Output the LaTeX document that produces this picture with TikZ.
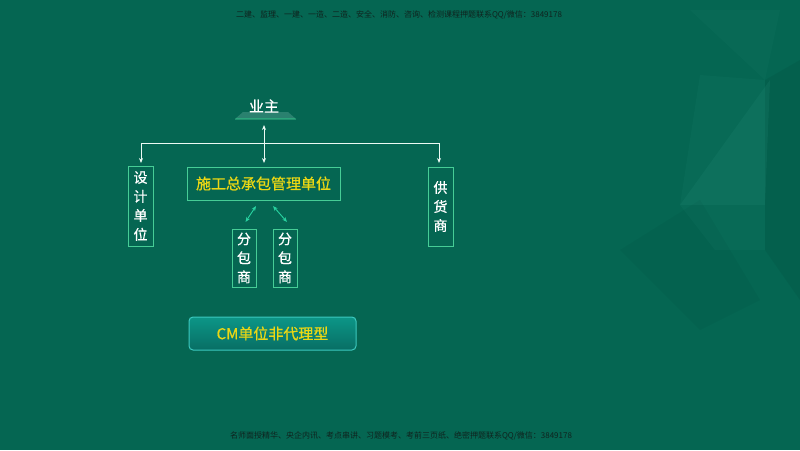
\documentclass[tikz,border=0pt]{standalone}
\usepackage{fontspec}
\setmainfont{Noto Sans CJK SC}
\newfontfamily\cjk{Noto Sans CJK SC}
\newfontfamily\cjkm[BoldFont={Noto Sans CJK SC},BoldFeatures={FakeBold=0.7}]{Noto Sans CJK SC}
\usetikzlibrary{arrows.meta,shapes.geometric}
\definecolor{bg}{RGB}{5,102,82}
\definecolor{bgl}{RGB}{20,120,100}
\definecolor{boxc}{RGB}{70,205,150}
\definecolor{ylw}{RGB}{235,215,20}
\definecolor{arr}{RGB}{40,210,160}
\definecolor{wm}{RGB}{15,35,30}
\definecolor{btnb}{RGB}{60,200,190}
\definecolor{btnt}{RGB}{12,150,135}
\definecolor{btnd}{RGB}{8,110,100}
\tikzset{
  vbox/.style={draw=boxc,line width=0.9pt,minimum width=25pt,align=center,font=\cjkm\bfseries\fontsize{14}{19}\selectfont,text=white,inner sep=2pt},
  hbox/.style={draw=boxc,line width=0.9pt,minimum width=153pt,minimum height=33pt,font=\cjkm\bfseries\fontsize{15}{18}\selectfont,text=ylw},
  link/.style={draw=white!90!boxc,line width=0.9pt},
  tip/.style={-{Stealth[length=5pt,width=4pt]}},
  dtip/.style={{Stealth[length=5pt,width=4pt]}-{Stealth[length=5pt,width=4pt]}},
  wmark/.style={font=\cjk\fontsize{8}{9}\selectfont,text=wm}
}
\begin{document}
\begin{tikzpicture}[x=1pt,y=-1pt]
\useasboundingbox (0,0) rectangle (800,450);
\fill[bg] (0,0) rectangle (800,450);
% background facets on the right
\fill[bgl,opacity=0.25] (700,75) -- (765,80) -- (765,205) -- (680,205) -- cycle;
\fill[bgl,opacity=0.45] (770,80) -- (765,205) -- (680,205) -- cycle;
\fill[bgl,opacity=0.25] (680,205) -- (765,205) -- (765,250) -- (715,250) -- cycle;
\fill[bgl,opacity=0.2] (690,10) -- (780,10) -- (765,80) -- cycle;
\fill[black,opacity=0.05] (765,80) -- (800,60) -- (800,300) -- (765,250) -- cycle;
\fill[black,opacity=0.03] (620,250) -- (700,200) -- (760,300) -- (700,330) -- cycle;
% watermarks
\node[wmark] (top) at (399,15) {二建、监理、一建、一造、二造、安全、消防、咨询、检测课程押题联系QQ/微信：3849178};
\node[wmark] (bot) at (401,436) {名师面授精华、央企内讯、考点串讲、习题模考、考前三页纸、绝密押题联系QQ/微信：3849178};
% owner
\fill[bgl!80!white,opacity=0.6] (243,112) -- (288,112) -- (296,119) -- (235,119) -- cycle;
\fill[boxc!60!bg] (236,118) -- (295,118) -- (296,119.5) -- (235,119.5) -- cycle;
\node[font=\cjkm\bfseries\fontsize{15}{18}\selectfont,text=white] (own) at (264,106) {业主};
\coordinate (ownb) at (264,125);
% boxes
\node[vbox,minimum height=80pt] (des) at (140.5,206) {设\\计\\单\\位};
\node[hbox] (gc) at (263.5,183.5) {施工总承包管理单位};
\node[vbox,minimum height=79pt] (sup) at (440.5,206.5) {供\\货\\商};
\node[vbox,minimum height=58pt,minimum width=24pt] (s1) at (244,258) {分\\包\\商};
\node[vbox,minimum height=58pt,minimum width=24pt] (s2) at (285,258) {分\\包\\商};
% connectors
\coordinate (hl) at (141,143);
\coordinate (hr) at (439,143);
\draw[link] (hl) -- (hr);
\draw[link,tip] (hl) -- (141,163);
\draw[link,tip] (hr) -- (439,163);
\draw[link,dtip] (ownb) -- (264,163);
\draw[arr,line width=0.9pt,dtip] (245.5,222) -- (256,206);
\draw[arr,line width=0.9pt,dtip] (273,206) -- (287,222);
% CM button
\node[draw=btnb,line width=1pt,rounded corners=4pt,minimum width=167pt,minimum height=33pt,
  top color=btnt,bottom color=btnd,
  font=\cjkm\bfseries\fontsize{15}{18}\selectfont,text=ylw] (cm) at (272.5,333.5) {CM单位非代理型};
\end{tikzpicture}
\end{document}
